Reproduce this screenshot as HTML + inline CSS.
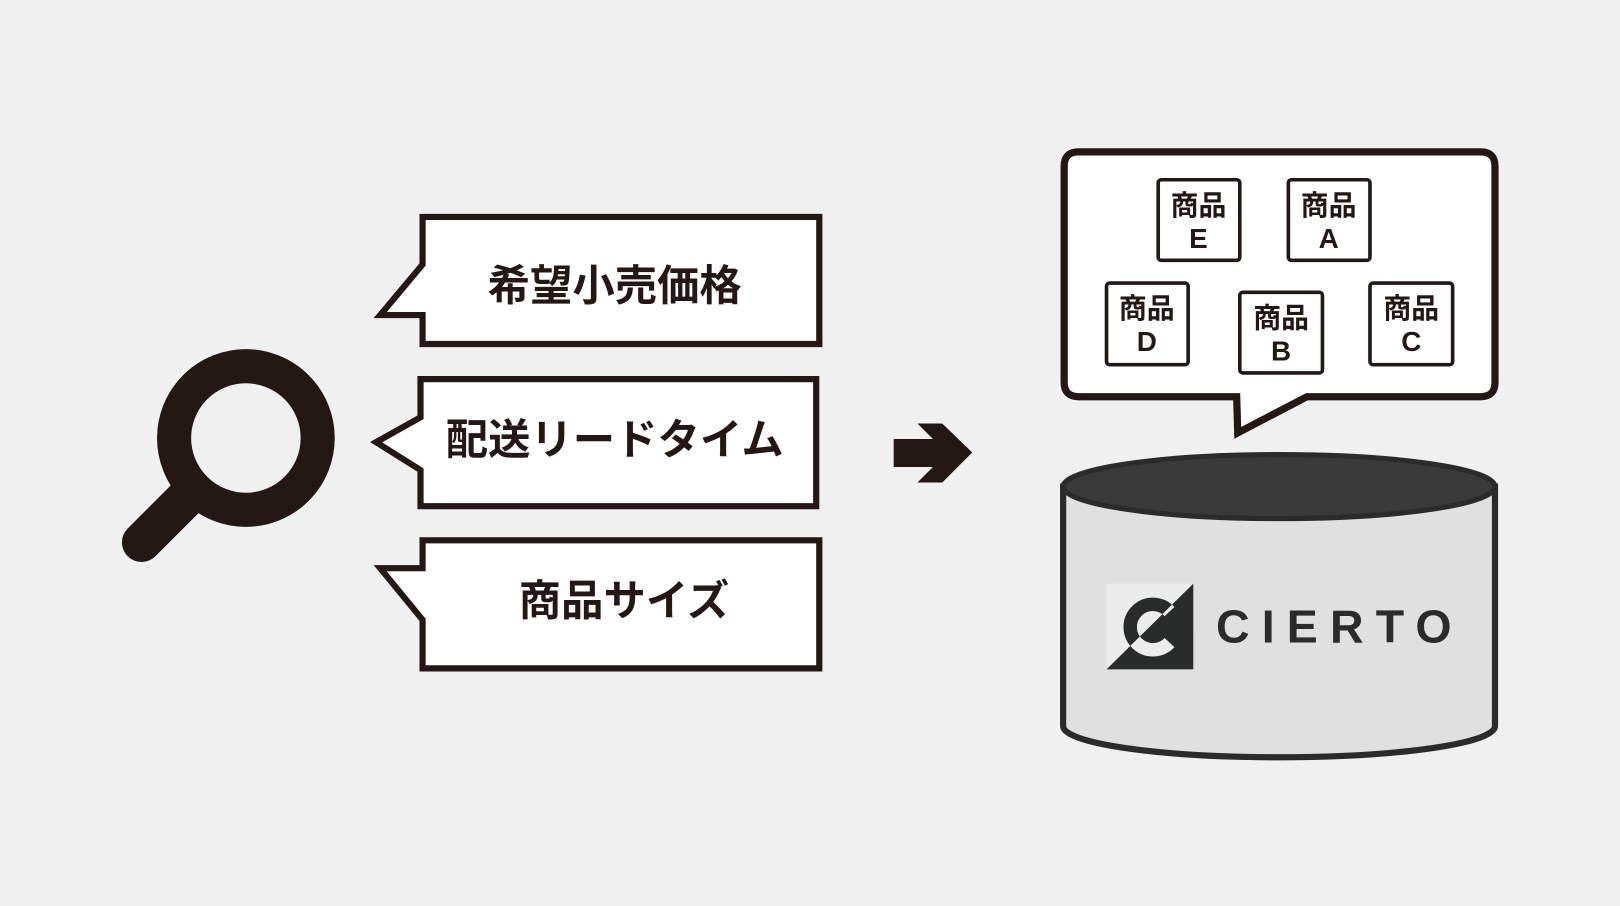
<!DOCTYPE html>
<html><head><meta charset="utf-8"><style>
html,body{margin:0;padding:0;background:#f0f0f0;}
svg{display:block}
text{font-family:"Liberation Sans","Noto Sans CJK JP",sans-serif;font-weight:bold;fill:#231815}
</style></head><body>
<svg width="1620" height="906" viewBox="0 0 1568 877" preserveAspectRatio="none" xmlns="http://www.w3.org/2000/svg">
<rect width="1568" height="877" fill="#f0f0f0"/>
<!-- magnifier -->
<line x1="137" y1="525" x2="186" y2="476" stroke="#231815" stroke-width="38" stroke-linecap="round"/>
<circle cx="238" cy="424" r="69.5" fill="none" stroke="#231815" stroke-width="33"/>
<!-- callouts -->
<g fill="#fff" stroke="#231815" stroke-width="6" stroke-linejoin="miter">
<path d="M409,210 H793 V333 H409 V305 H368 L409,256 Z"/>
<path d="M407,367 H790 V490 H407 V455 L364,428 L407,404 Z"/>
<path d="M409,523 H793 V647 H409 V600 L368,550 H409 Z"/>
</g>
<text x="595" y="291" font-size="41" text-anchor="middle">希望小売価格</text>
<text x="595" y="440" font-size="41" text-anchor="middle">配送リードタイム</text>
<text x="604" y="596" font-size="41" text-anchor="middle">商品サイズ</text>
<!-- arrow -->
<polygon points="865,425 903,425 888,410 912,410 941,438 912,467 888,467 903,452 865,452" fill="#231815"/>
<!-- bubble -->
<path d="M1044,147 H1433 Q1447,147 1447,161 V370 Q1447,384 1433,384 H1265 L1198,419 L1197,384 H1044 Q1030,384 1030,370 V161 Q1030,147 1044,147 Z" fill="#fff" stroke="#231815" stroke-width="7" stroke-linejoin="miter"/>
<g fill="#fff" stroke="#231815" stroke-width="3.5">
<rect x="1121" y="174" width="79" height="78" rx="3"/>
<rect x="1247" y="174" width="79" height="78" rx="3"/>
<rect x="1071" y="274" width="79" height="79" rx="3"/>
<rect x="1200" y="283" width="80" height="78" rx="3"/>
<rect x="1326" y="274" width="80" height="79" rx="3"/>
</g>
<g font-size="27" text-anchor="middle">
<text x="1160" y="208">商品</text><text x="1160" y="240">E</text>
<text x="1286" y="208">商品</text><text x="1286" y="240">A</text>
<text x="1110" y="308">商品</text><text x="1110" y="340">D</text>
<text x="1240" y="317">商品</text><text x="1240" y="349">B</text>
<text x="1366" y="308">商品</text><text x="1366" y="340">C</text>
</g>
<!-- cylinder -->
<path d="M1029,471 V703 A209,30 0 0 0 1447,703 V471 Z" fill="#e0e0e0" stroke="#2b2b2b" stroke-width="6"/>
<ellipse cx="1238" cy="471" rx="209" ry="31" fill="#3a3a3a" stroke="#2b2b2b" stroke-width="5"/>
<!-- logo -->
<defs>
<clipPath id="tl"><polygon points="1071,565 1155,565 1071,648"/></clipPath>
<clipPath id="br"><polygon points="1155,565 1155,648 1071,648"/></clipPath>
</defs>
<rect x="1071" y="565" width="84" height="83" fill="#ececec"/>
<polygon points="1155,565 1155,648 1071,648" fill="#2a2c2b"/>
<path d="M1132,592 A22,22 0 1 0 1132,622" fill="none" stroke="#2a2c2b" stroke-width="13" clip-path="url(#tl)"/>
<path d="M1132,592 A22,22 0 1 0 1132,622" fill="none" stroke="#ececec" stroke-width="13" clip-path="url(#br)"/>
<text x="1177" y="622" font-size="45" font-weight="normal" style="font-family:'Liberation Sans',sans-serif;fill:#2a2c2b" textLength="228">CIERTO</text>
</svg>
</body></html>
